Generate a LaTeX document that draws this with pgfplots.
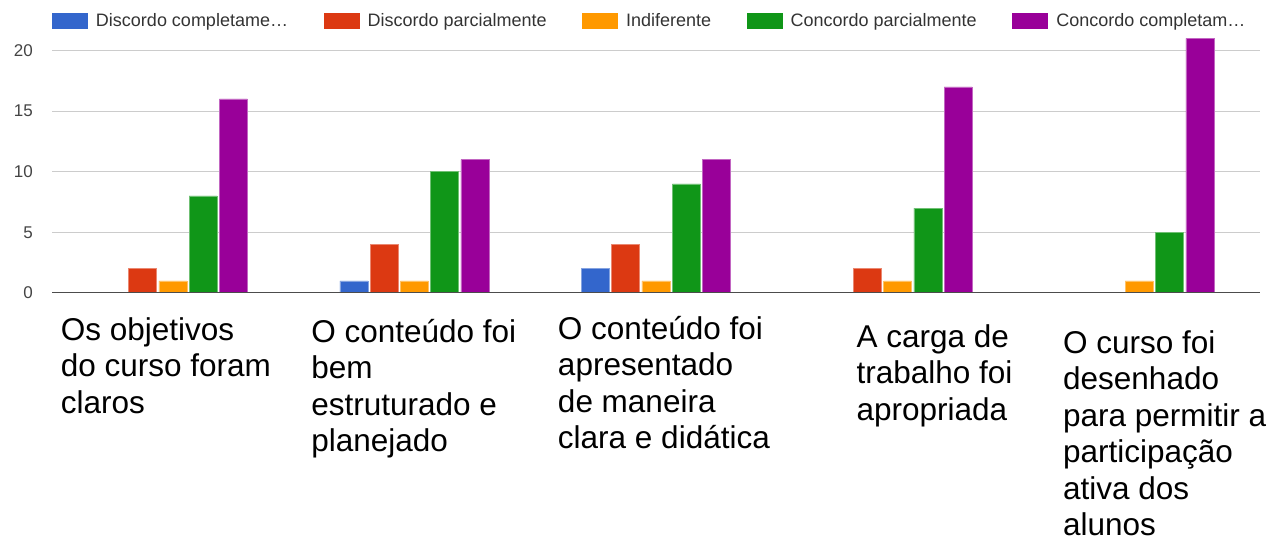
\documentclass[border=0pt]{standalone}
\usepackage{pgfplots}
\pgfplotsset{compat=1.18}
\usepackage{fontspec}
\setmainfont{Liberation Sans}
\definecolor{cblue}{HTML}{3366CC}
\definecolor{cred}{HTML}{DC3912}
\definecolor{corange}{HTML}{FF9900}
\definecolor{cgreen}{HTML}{109618}
\definecolor{cpurple}{HTML}{990099}
\definecolor{gridc}{HTML}{CCCCCC}
\definecolor{tickc}{HTML}{444444}
\newcommand{\lab}[3]{\makebox[0pt][l]{\hspace*{#1}\raisebox{-#2}[0pt][0pt]{\fontsize{31.5}{36.5}\selectfont\begin{tabular}[t]{@{}l@{}}#3\end{tabular}}}}
\begin{document}
\begin{tikzpicture}
\useasboundingbox (0,0) rectangle (1284pt,543pt);
\begin{axis}[
  at={(52pt,250pt)}, anchor=south west,
  scale only axis, width=1208pt, height=254.7pt,
  xmin=-0.5, xmax=4.5, ymin=0, ymax=21,
  ybar=2.3pt, bar width=28pt,
  axis line style={draw=none},
  major tick length=0pt,
  ytick={0,5,10,15,20},
  ymajorgrids, grid style={gridc, line width=1pt},
  xtick={0,1,2,3,4},
  xticklabels={
    {\lab{-112pt}{47pt}{Os objetivos\\do curso foram\\claros}},
    {\lab{-103pt}{49pt}{O conteúdo foi\\bem\\estruturado e\\planejado}},
    {\lab{-98pt}{46pt}{O conteúdo foi\\apresentado\\de maneira\\clara e didática}},
    {\lab{-41pt}{54pt}{A carga de\\trabalho foi\\apropriada}},
    {\lab{-76pt}{60pt}{O curso foi\\desenhado\\para permitir a\\participação\\ativa dos\\alunos}}
  },
  xticklabel style={anchor=north, inner sep=0pt, outer sep=0pt},
  yticklabel style={anchor=east, inner sep=0pt, xshift=-19pt, font=\fontsize{17}{20}\selectfont, text=tickc},
  /pgf/number format/assume math mode=true,
  legend columns=5,
  legend style={draw=none, fill=none, inner sep=0pt, outer sep=0pt,
    at={(0,1.068)}, anchor=west,
    font=\fontsize{18}{21}\selectfont, text=black!80,
    /tikz/every even column/.append style={column sep=27.5pt},
    nodes={inner xsep=8pt, inner ysep=0pt}},
  legend image code/.code={\fill[#1,draw=none] (0pt,-8pt) rectangle (36pt,8pt);},
  clip=true,
]
\addplot[fill=cblue, draw=cblue!60!white, line width=0.5pt] coordinates {(1,1) (2,2)};
\addplot[fill=cred, draw=cred!60!white, line width=0.5pt] coordinates {(0,2) (1,4) (2,4) (3,2)};
\addplot[fill=corange, draw=corange!60!white, line width=0.5pt] coordinates {(0,1) (1,1) (2,1) (3,1) (4,1)};
\addplot[fill=cgreen, draw=cgreen!60!white, line width=0.5pt] coordinates {(0,8) (1,10) (2,9) (3,7) (4,5)};
\addplot[fill=cpurple, draw=cpurple!60!white, line width=0.5pt] coordinates {(0,16) (1,11) (2,11) (3,17) (4,21)};
\legend{Discordo completame…, Discordo parcialmente, Indiferente, Concordo parcialmente, Concordo completam…}
\draw[black!70, line width=1.5pt] (rel axis cs:0,0) -- (rel axis cs:1,0);
\end{axis}
\end{tikzpicture}
\end{document}
